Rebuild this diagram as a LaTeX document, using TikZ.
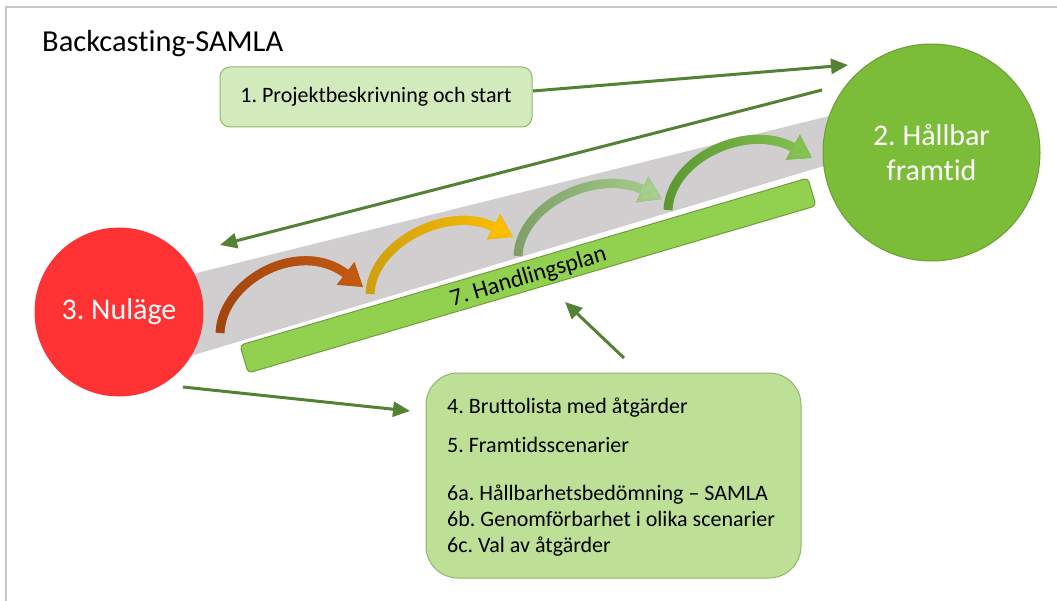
\documentclass[tikz,border=0pt]{standalone}
\usepackage{fontspec}
\setmainfont{Carlito}[Ligatures=NoCommon]
\frenchspacing
\usetikzlibrary{arrows.meta,fadings}

\definecolor{framegray}{HTML}{C8C8C8}
\definecolor{linkgreen}{HTML}{548235}
\definecolor{bandgray}{HTML}{D0CECE}
\definecolor{futuregreen}{HTML}{7BBD38}
\definecolor{futureedge}{HTML}{6A9F33}
\definecolor{nowred}{HTML}{FF3333}
\definecolor{planfill}{HTML}{92D050}
\definecolor{planedge}{HTML}{6E9E3C}
\definecolor{startfill}{HTML}{D3EBBC}
\definecolor{stepsfill}{HTML}{BDDF96}
\definecolor{boxedge}{HTML}{8DB86A}
% hop arrows: base colour and tip colour
\definecolor{brownbase}{HTML}{A3470E}
\definecolor{browntip}{HTML}{C55A11}
\definecolor{goldbase}{HTML}{CFA010}
\definecolor{goldtip}{HTML}{FFC000}
\definecolor{sagebase}{HTML}{7E9F68}
\definecolor{sagetip}{HTML}{A9D18E}
\definecolor{leafbase}{HTML}{5C9830}
\definecolor{leaftip}{HTML}{86C552}

\tikzfading[name=tiplight, left color=transparent!100, right color=transparent!0]

\begin{document}
\begin{tikzpicture}[x=1pt,y=-1pt,
  link/.style={draw=linkgreen, line width=3pt, -{Triangle[length=17pt,width=15pt]}},
  hop/.style={line width=9pt, -{Triangle[length=22pt,width=27pt]}},
  txt/.style={font=\fontsize{22}{26}\selectfont},
  bigwhite/.style={circle, inner sep=0pt, text=white, align=center,
    font=\fontsize{30}{35}\selectfont}]

\useasboundingbox (0,0) rectangle (1057,601);
\fill[white] (0,0) rectangle (1057,601);
\draw[framegray, line width=2pt] (6,601) -- (6,7) -- (1057,7);

\node[anchor=base west, inner sep=0pt, font=\fontsize{30.5}{36}\selectfont] (title) at (42,52) {Backcasting-SAMLA};

% the road from now to the future
\fill[bandgray] (120,292.1) -- (900,98.4) -- (900,143.1) -- (120,377.1) -- cycle;

% four hops along the road, dark at the base, lighter towards the tip
\foreach \pth/\cb/\ct in {
  {(220,333) .. controls (222,280) and (300,238) .. (363,287)}/brownbase/browntip,
  {(370,294) .. controls (372,242) and (450,204) .. (513,237)}/goldbase/goldtip,
  {(518,256) .. controls (520,204) and (598,168) .. (662,199)}/sagebase/sagetip,
  {(668,210) .. controls (670,158) and (748,122) .. (812,158)}/leafbase/leaftip}{
  \draw[hop, draw=\cb] \pth;
  \draw[hop, draw=\ct, path fading=tiplight] \pth;
}

\node[draw=planedge, fill=planfill, line width=1pt, rounded corners=4pt,
  minimum width=592pt, minimum height=29pt, inner sep=0pt, rotate=16.4,
  text depth=0.05em, font=\fontsize{24}{28}\selectfont] (plan) at (528,275.5) {7. Handlingsplan};

\node[bigwhite, fill=futuregreen, draw=futureedge, line width=1pt, minimum size=217pt]
  (future) at (931.5,152.5) {2. Hållbar\\framtid};
\node[bigwhite, fill=nowred, minimum size=169pt] (now) at (119,312) {3. Nuläge};

% connector ends
\coordinate (startout) at (533,91);
\coordinate (futurein) at (848,65);
\coordinate (futureout) at (822,90);
\coordinate (nowin) at (220,245);
\coordinate (nowout) at (183,387);
\coordinate (stepsin) at (410,411);
\coordinate (stepsout) at (624,358);
\coordinate (planin) at (565,302);

\draw[link] (startout) -- (futurein);
\draw[link] (futureout) -- (nowin);
\draw[link] (nowout) -- (stepsin);
\draw[link] (stepsout) -- (planin);

\node[txt, draw=boxedge, fill=startfill, line width=1pt, rounded corners=10pt,
  minimum width=312pt, minimum height=60pt] (start) at (376,97)
  {1. Projektbeskrivning och start};

\node[draw=boxedge, fill=stepsfill, line width=1pt, rounded corners=32pt,
  minimum width=375pt, minimum height=205pt] (steps) at (613.5,475.5) {};
\begin{scope}[every node/.style={txt, anchor=base west, inner sep=0pt}]
\node (s4) at (447,413) {4. Bruttolista med åtgärder};
\node (s5) at (447,452) {5. Framtidsscenarier};
\node (s6a) at (447,500) {6a. Hållbarhetsbedömning – SAMLA};
\node (s6b) at (447,526) {6b. Genomförbarhet i olika scenarier};
\node (s6c) at (447,552) {6c. Val av åtgärder};
\end{scope}
\end{tikzpicture}
\end{document}
